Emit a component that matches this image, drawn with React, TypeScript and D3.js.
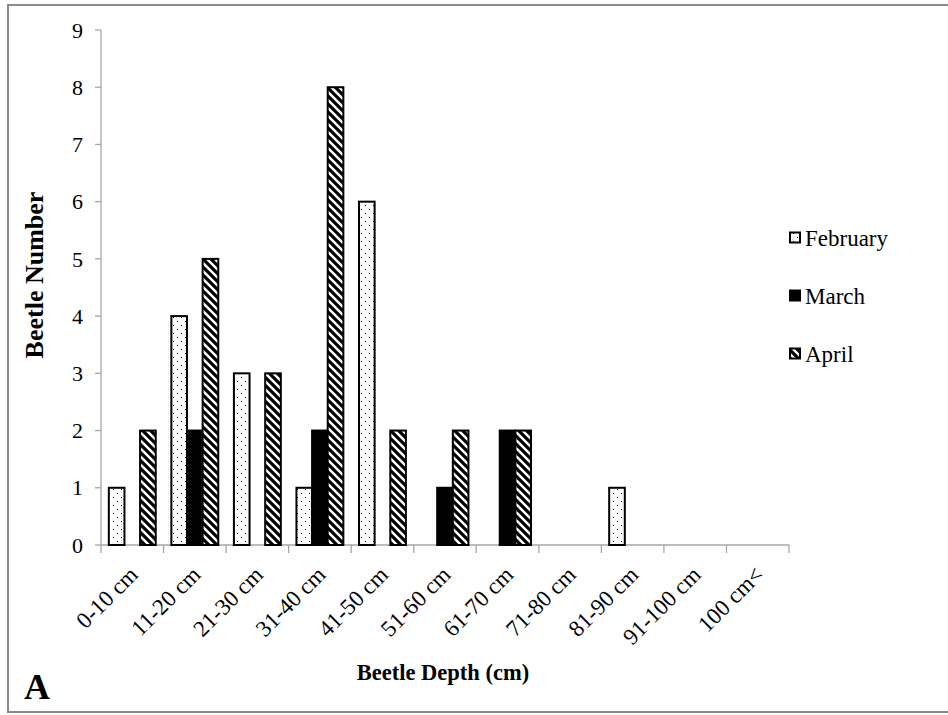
import * as d3 from "d3";

// depth classes on the x axis
const depthBins = [
  "0-10 cm",
  "11-20 cm",
  "21-30 cm",
  "31-40 cm",
  "41-50 cm",
  "51-60 cm",
  "61-70 cm",
  "71-80 cm",
  "81-90 cm",
  "91-100 cm",
  "100 cm<",
];
const months = ["February", "March", "April"];
const february = [1, 4, 3, 1, 6, 0, 0, 0, 1, 0, 0];
const march = [0, 2, 0, 2, 0, 1, 2, 0, 0, 0, 0];
const april = [2, 5, 3, 8, 2, 2, 2, 0, 0, 0, 0];
const yTicks = [0, 1, 2, 3, 4, 5, 6, 7, 8, 9];

const FONT = "'Liberation Serif', 'Times New Roman', serif";
const AXIS = "#a6a6a6";

export default function App() {
  const width = 948;
  const height = 715;
  const left = 101;
  const right = 789;
  const top = 30;
  const bottom = 545;

  const x0 = d3.scaleBand().domain(depthBins).range([left, right]).padding(0);
  const x1 = d3
    .scaleBand()
    .domain(months)
    .range([0, x0.bandwidth()])
    .paddingInner(0)
    .paddingOuter(0.5);
  const y = d3.scaleLinear().domain([0, 9]).range([bottom, top]);

  const series = [
    { name: "February", values: february, fill: "url(#dots)" },
    { name: "March", values: march, fill: "#000" },
    { name: "April", values: april, fill: "url(#diag)" },
  ];

  return (
    <svg
      width={width}
      height={height}
      style={{ position: "absolute", left: 0, top: 0 }}
      xmlns="http://www.w3.org/2000/svg"
    >
      <defs>
        <pattern id="dots" width="8" height="8" patternUnits="userSpaceOnUse">
          <rect width="8" height="8" fill="#fff" />
          <rect x="1" y="1" width="1" height="1" fill="#000" />
          <rect x="5" y="5" width="1" height="1" fill="#000" />
        </pattern>
        <pattern id="diag" width="8" height="8" patternUnits="userSpaceOnUse">
          <rect width="8" height="8" fill="#fff" />
          <path d="M-2,-2 L10,10 M-2,6 L2,10 M6,-2 L10,2" stroke="#000" strokeWidth="3.2" />
        </pattern>
      </defs>

      <rect x={0} y={0} width={width} height={height} fill="#fff" />
      <rect x={8} y={5} width={960} height={707} fill="none" stroke="#8a8a8a" strokeWidth={2} />

      {/* y axis */}
      <line x1={left} x2={left} y1={top} y2={bottom} stroke={AXIS} strokeWidth={1.3} />
      {yTicks.map((t) => (
        <g key={t}>
          <line x1={left - 6} x2={left} y1={y(t)} y2={y(t)} stroke={AXIS} strokeWidth={1.3} />
          <text
            x={83}
            y={y(t)}
            dy="0.35em"
            textAnchor="end"
            fontFamily={FONT}
            fontSize={22}
          >
            {t}
          </text>
        </g>
      ))}

      {/* x axis */}
      <line x1={left} x2={right} y1={bottom} y2={bottom} stroke={AXIS} strokeWidth={1.3} />
      {depthBins.map((d) => (
        <line
          key={"t" + d}
          x1={x0(d)! + x0.bandwidth()}
          x2={x0(d)! + x0.bandwidth()}
          y1={bottom}
          y2={bottom + 8}
          stroke={AXIS}
          strokeWidth={1.3}
        />
      ))}
      <line x1={left} x2={left} y1={bottom} y2={bottom + 8} stroke={AXIS} strokeWidth={1.3} />
      {depthBins.map((d) => {
        const cx = x0(d)! + x0.bandwidth() / 2 + 7;
        const cy = bottom + 31;
        return (
          <text
            key={"l" + d}
            x={cx}
            y={cy}
            textAnchor="end"
            transform={`rotate(-45 ${cx} ${cy})`}
            fontFamily={FONT}
            fontSize={23}
          >
            {d}
          </text>
        );
      })}

      {/* bars */}
      {series.map((s) =>
        s.values.map((v, i) =>
          v > 0 ? (
            <rect
              key={s.name + i}
              x={x0(depthBins[i])! + x1(s.name)!}
              y={y(v)}
              width={x1.bandwidth()}
              height={y(0) - y(v)}
              fill={s.fill}
              stroke="#000"
              strokeWidth={2}
            />
          ) : null
        )
      )}

      {/* legend */}
      {series.map((s, i) => {
        const ly = 237.5 + i * 58;
        return (
          <g key={"lg" + s.name}>
            <rect x={790} y={ly - 5} width={10} height={10} fill={s.fill} stroke="#000" strokeWidth={2} />
            <text x={805} y={ly} dy="0.35em" fontFamily={FONT} fontSize={23}>
              {s.name}
            </text>
          </g>
        );
      })}

      {/* axis titles */}
      <text
        transform="translate(43 275) rotate(-90)"
        textAnchor="middle"
        fontFamily={FONT}
        fontSize={26}
        fontWeight="bold"
      >
        Beetle Number
      </text>
      <text x={443} y={680} textAnchor="middle" fontFamily={FONT} fontSize={22.5} fontWeight="bold">
        Beetle Depth (cm)
      </text>
      <text x={24} y={699} fontFamily={FONT} fontSize={36} fontWeight="bold">
        A
      </text>
    </svg>
  );
}
